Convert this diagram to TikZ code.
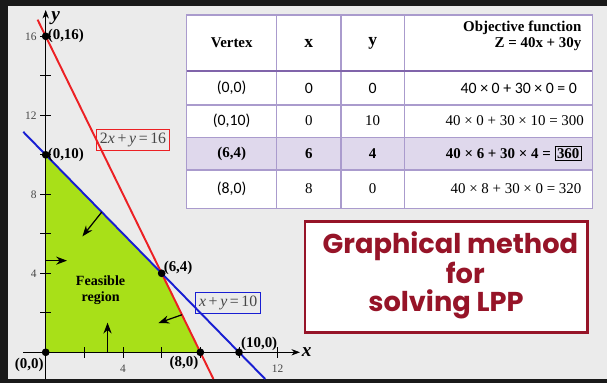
\documentclass[tikz,border=0pt]{standalone}
\usepackage{fontspec}
\setmainfont{Liberation Serif}
\newfontfamily\calfont{Carlito}
\newfontfamily\titlefont{Poppins}
\usetikzlibrary{arrows.meta,calc}

\definecolor{frameblack}{RGB}{25,25,25}
\definecolor{paper}{RGB}{235,235,235}
\definecolor{feasgreen}{RGB}{168,224,24}
\definecolor{redline}{RGB}{236,32,36}
\definecolor{blueline}{RGB}{24,30,210}
\definecolor{gridpurple}{RGB}{170,155,205}
\definecolor{headpurple}{RGB}{128,100,170}
\definecolor{rowpurple}{RGB}{223,216,236}
\definecolor{titlered}{RGB}{150,20,40}
\definecolor{labgray}{RGB}{70,70,70}

\tikzset{
  vlabel/.style={font=\bfseries\fontsize{8.5}{10}\selectfont, inner sep=1pt},
  ticklab/.style={font=\fontsize{6.5}{8}\selectfont, text=labgray, inner sep=2pt},
  eqbox/.style={draw=#1, line width=0.6pt, inner sep=2pt, text=labgray,
    font=\fontsize{9}{10}\selectfont},
  head/.style={font=\bfseries\fontsize{8.5}{9}\selectfont},
  cell/.style={font=\fontsize{8.5}{10}\selectfont},
  calcell/.style={font=\calfont\fontsize{9}{10}\selectfont},
  dirarrow/.style={->, line width=0.7pt}
}

\begin{document}
\begin{tikzpicture}[>=Stealth]

\fill[frameblack] (0,0) rectangle (12.14,7.66);
\fill[paper] (0.16,0.08) rectangle (12.14,7.54);

% graph
\begin{scope}[shift={(0.914,0.614)}, x=0.3866cm, y=0.395cm]

\coordinate (O) at (0,0);
\coordinate (P) at (0,10);
\coordinate (Q) at (6,4);
\coordinate (R) at (8,0);
\coordinate (S) at (10,0);
\coordinate (T) at (0,16);

\fill[feasgreen] (O) -- (P) -- (Q) -- (R) -- cycle;

\draw[->] (-1.17,0) -- (13.15,0) node[right, inner sep=1pt, font=\bfseries\itshape\fontsize{11}{12}\selectfont] (xlab) {x};
\draw[->] (0,-1.35) -- (0,17.33) node[anchor=north west, xshift=2pt, inner sep=1pt, font=\bfseries\itshape\fontsize{11}{12}\selectfont] (ylab) {y};

\foreach \t in {2,4,...,12} \draw (\t,0) ++(0,-3pt) -- ++(0,6pt);
\foreach \t in {2,4,...,16} \draw (0,\t) ++(-3pt,0) -- ++(6pt,0);
\foreach \t in {4,12} \node[ticklab, below=5pt] (xt\t) at (\t,0) {\t};
\foreach \t in {4,8,12,16} \node[ticklab, left=3pt] (yt\t) at (0,\t) {\t};

\draw[redline, line width=1.1pt] (-0.42,16.84) -- (8.675,-1.35);
\draw[blueline, line width=1.1pt] (-1.16,11.16) -- (11.35,-1.35);

\draw[dirarrow] (3.2,0) -- (3.2,1.5);
\draw[dirarrow] (0,4.64) -- (1.1,4.64);
\draw[dirarrow] (2.9,7.1) -- (1.9,5.87);
\draw[dirarrow] (7.05,1.9) -- (5.83,1.48);

\foreach \p in {O,P,Q,R,S,T} \fill (\p) circle[radius=2.2pt];

\node[vlabel, right] (lT) at (T) {(0,16)};
\node[vlabel, right] (lP) at (P) {(0,10)};
\node[vlabel, above right, yshift=-2pt] (lQ) at (Q) {(6,4)};
\node[vlabel, below left, yshift=-2pt] (lO) at (O) {(0,0)};
\node[vlabel, below left, yshift=-1pt] (lR) at (R) {(8,0)};
\node[vlabel, above right] (lS) at (S) {(10,0)};

\node[vlabel, font=\bfseries\fontsize{8}{9.5}\selectfont, align=center] (feas) at (2.84,3.14) {Feasible\\region};

\node[eqbox=redline] (eqred) at (4.52,10.75) {2\textit{x}\,+\,\textit{y}\,=\,16};
\node[eqbox=blueline] (eqblue) at (9.44,2.5) {\textit{x}\,+\,\textit{y}\,=\,10};

\end{scope}

% table
\fill[white] (3.734,3.494) rectangle (11.846,7.36);
\fill[rowpurple] (3.734,4.26) rectangle (11.846,4.914);
\foreach \cx in {5.534,6.82,8.086} \draw[gridpurple, line width=0.6pt] (\cx,3.494) -- (\cx,7.36);
\foreach \cy in {5.56,4.914,4.26} \draw[gridpurple, line width=0.6pt] (3.734,\cy) -- (11.846,\cy);
\draw[gridpurple, line width=0.6pt] (3.734,3.494) rectangle (11.846,7.36);
\draw[headpurple, line width=1.3pt] (3.734,6.234) -- (11.846,6.234);

\node[head] (hv) at (4.634,6.8) {Vertex};
\node[head, font=\bfseries\fontsize{10}{11}\selectfont] (hx) at (6.177,6.8) {x};
\node[head, font=\bfseries\fontsize{10}{11}\selectfont] (hy) at (7.453,6.8) {y};
\node[head, anchor=east, align=right, inner sep=1pt] (hz) at (11.67,6.94) {Objective function\\Z = 40x + 30y};

\node[calcell] (v1) at (4.634,5.9) {(0,0)};
\node[calcell] (x1) at (6.177,5.9) {0};
\node[calcell] (y1) at (7.453,5.9) {0};
\node[calcell, anchor=east, inner sep=1pt] (z1) at (11.58,5.9) {40 × 0 + 30 × 0 = 0};

\node[calcell] (v2) at (4.634,5.24) {(0,10)};
\node[cell] (x2) at (6.177,5.24) {0};
\node[cell] (y2) at (7.453,5.24) {10};
\node[cell, anchor=east, inner sep=1pt] (z2) at (11.72,5.24) {40 × 0 + 30 × 10 = 300};

\node[cell, font=\bfseries\fontsize{8.5}{10}\selectfont] (v3) at (4.634,4.588) {(6,4)};
\node[cell, font=\bfseries\fontsize{8.5}{10}\selectfont] (x3) at (6.177,4.588) {6};
\node[cell, font=\bfseries\fontsize{8.5}{10}\selectfont] (y3) at (7.453,4.588) {4};
\node[cell, font=\bfseries\fontsize{8.5}{10}\selectfont, anchor=east, inner sep=1pt] (z3) at (11.68,4.588)
  {40 × 6 + 30 × 4 = {\setlength{\fboxsep}{0.8pt}\setlength{\fboxrule}{0.6pt}\fbox{360}}};

\node[calcell] (v4) at (4.634,3.88) {(8,0)};
\node[cell] (x4) at (6.177,3.88) {8};
\node[cell] (y4) at (7.453,3.88) {0};
\node[cell, anchor=east, inner sep=1pt] (z4) at (11.67,3.88) {40 × 8 + 30 × 0 = 320};

% title
\draw[titlered, line width=1.7pt, fill=white] (6.10,1.006) rectangle (11.746,3.226);
\node[text=titlered, font=\titlefont\bfseries\fontsize{15.5}{15.8}\selectfont, align=center] (title) at (8.92,2.16)
  {\hspace*{5pt}Graphical method\\\hspace*{22pt}for\\solving LPP};

\end{tikzpicture}
\end{document}
